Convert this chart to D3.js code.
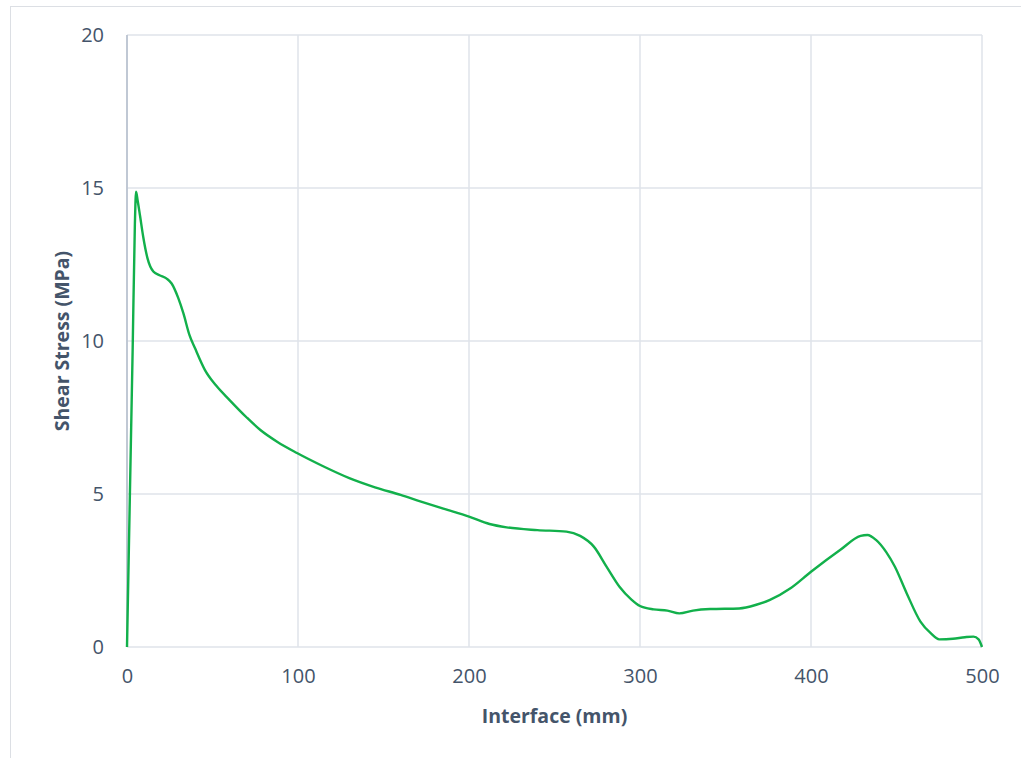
<!DOCTYPE html>
<html>
<head>
<meta charset="utf-8">
<script src="https://cdn.jsdelivr.net/npm/d3@7"></script>
<style>
  html, body { margin: 0; padding: 0; background: #fff; }
  svg { display: block; }
</style>
</head>
<body>
<svg id="chart" width="1021" height="758"></svg>
<script>
// Shear stress distribution along the interface
const interfaceMm = [0, 3.3, 4.6, 5.3, 6.2, 7.6, 9.5, 12, 15.4, 19, 23.2, 26.1, 30, 33, 36.5, 39.8, 45.6, 52, 60, 70, 78, 88, 99.4, 115, 130, 145, 160, 171, 185, 200, 212, 222, 240, 257, 265, 273, 280.5, 288, 295, 300, 308, 316, 323, 331, 341, 358, 368, 376, 388, 400, 417, 429, 433, 438, 444, 449, 456, 464, 470, 475, 483, 490, 495, 498, 500];
const shearMPa =    [0, 9.7, 13.8, 14.88, 14.6, 14.1, 13.4, 12.7, 12.27, 12.15, 12.04, 11.88, 11.4, 10.9, 10.2, 9.76, 9.05, 8.55, 8.07, 7.5, 7.09, 6.7, 6.34, 5.9, 5.52, 5.22, 4.97, 4.77, 4.52, 4.26, 4.02, 3.91, 3.82, 3.77, 3.63, 3.28, 2.62, 1.97, 1.55, 1.34, 1.23, 1.19, 1.10, 1.19, 1.24, 1.26, 1.38, 1.54, 1.92, 2.46, 3.17, 3.63, 3.66, 3.50, 3.1, 2.63, 1.75, 0.83, 0.45, 0.25, 0.27, 0.32, 0.34, 0.25, 0];

const xTicks = [0, 100, 200, 300, 400, 500];
const yTicks = [0, 5, 10, 15, 20];

const svg = d3.select("#chart");
const W = 1021, H = 758;
const m = { left: 127, right: 1021 - 982, top: 35, bottom: 758 - 647 };
const textColor = "#44546a";
const fontFamily = "'Open Sans', 'Noto Sans', sans-serif";

// outer chart frame
svg.append("rect")
  .attr("x", 10.5).attr("y", 6.5)
  .attr("width", W).attr("height", H)
  .attr("fill", "#fff")
  .attr("stroke", "#dcdfe4").attr("stroke-width", 1);

const x = d3.scaleLinear().domain([0, 500]).range([m.left, W - m.right]);
const y = d3.scaleLinear().domain([0, 20]).range([H - m.bottom, m.top]);

// gridlines
const grid = svg.append("g");
grid.selectAll(".gx").data(xTicks).join("line")
  .attr("x1", d => x(d)).attr("x2", d => x(d))
  .attr("y1", y(0)).attr("y2", y(20))
  .attr("stroke", "#dfe3ea").attr("stroke-width", 1.5);
grid.selectAll(".gy").data(yTicks).join("line")
  .attr("x1", x(0)).attr("x2", x(500))
  .attr("y1", d => y(d)).attr("y2", d => y(d))
  .attr("stroke", "#dfe3ea").attr("stroke-width", 1.5);

// vertical axis line
svg.append("line")
  .attr("x1", x(0)).attr("x2", x(0))
  .attr("y1", y(0)).attr("y2", y(20))
  .attr("stroke", "#b3bccb").attr("stroke-width", 1.5);

// axes (labels only)
const xAxis = d3.axisBottom(x).tickValues(xTicks).tickSize(0).tickPadding(22);
const gx = svg.append("g").attr("transform", `translate(0,${y(0)})`).call(xAxis);
gx.select(".domain").remove();
gx.selectAll("text").attr("fill", textColor).attr("font-size", 20).attr("font-family", fontFamily);

const yAxis = d3.axisLeft(y).tickValues(yTicks).tickSize(0).tickPadding(23);
const gy = svg.append("g").attr("transform", `translate(${x(0)},0)`).call(yAxis);
gy.select(".domain").remove();
gy.selectAll("text").attr("fill", textColor).attr("font-size", 20).attr("font-family", fontFamily);

// data line
const line = d3.line()
  .x((d, i) => x(interfaceMm[i]))
  .y(d => y(d))
  .curve(d3.curveMonotoneX);
svg.append("path")
  .datum(shearMPa)
  .attr("d", line)
  .attr("fill", "none")
  .attr("stroke", "#12b04b")
  .attr("stroke-width", 2.4)
  .attr("stroke-linejoin", "round");

// axis titles
svg.append("text")
  .attr("x", (x(0) + x(500)) / 2).attr("y", 723)
  .attr("text-anchor", "middle")
  .attr("font-family", fontFamily).attr("font-weight", "bold")
  .attr("font-size", 19.5).attr("fill", textColor)
  .text("Interface (mm)");

svg.append("text")
  .attr("transform", `translate(69,${(y(0) + y(20)) / 2}) rotate(-90)`)
  .attr("text-anchor", "middle")
  .attr("font-family", fontFamily).attr("font-weight", "bold")
  .attr("font-size", 19.5).attr("fill", textColor)
  .text("Shear Stress (MPa)");
</script>
</body>
</html>
